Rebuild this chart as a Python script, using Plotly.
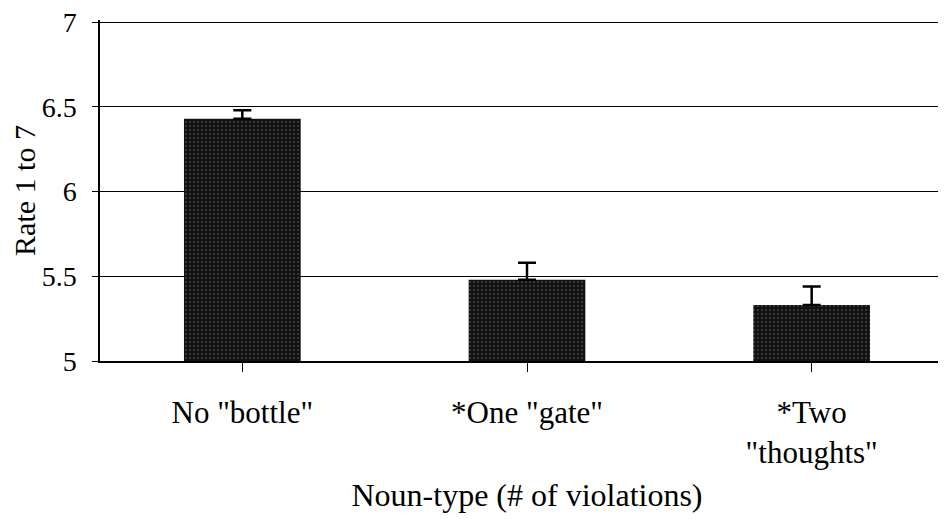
import plotly.graph_objects as go

categories = ['No "bottle"', '*One "gate"', '*Two<br>"thoughts"']
values = [6.43, 5.48, 5.33]
errors_plus = [0.05, 0.10, 0.11]
y_ticks = [5, 5.5, 6, 6.5, 7]
y_tick_text = ["5", "5.5", "6", "6.5", "7"]

font_family = "Liberation Serif, Times New Roman, serif"

fig = go.Figure()
fig.add_trace(go.Bar(
    x=[0, 1, 2],
    y=values,
    base=0,
    width=0.41,
    marker=dict(
        color="#111111",
        line=dict(width=0),
        pattern=dict(shape=".", fgcolor="#7a7a7a", size=4, solidity=0.2, fillmode="overlay"),
    ),
    error_y=dict(type="data", symmetric=False, array=errors_plus, arrayminus=[0, 0, 0],
                 color="black", thickness=2.5, width=9),
    showlegend=False,
))

fig.update_layout(
    width=946, height=519,
    margin=dict(l=92, r=0, t=12, b=166),
    paper_bgcolor="white", plot_bgcolor="white",
    font=dict(family=font_family, color="black"),
    xaxis=dict(
        tickmode="array", tickvals=[0, 1, 2], ticktext=categories,
        range=[-0.5, 2.5],
        showline=True, linecolor="black", linewidth=1.5,
        ticks="outside", tickson="boundaries", ticklen=9, tickcolor="black", tickwidth=1,
        showgrid=False,
        tickfont=dict(size=31, family=font_family),
        ticklabelstandoff=14,
        automargin=False,
        title=dict(text="Noun-type (# of violations)", font=dict(size=32, family=font_family), standoff=14),
    ),
    yaxis=dict(
        range=[5, 7.012],
        tickmode="array", tickvals=y_ticks, ticktext=y_tick_text,
        showline=True, linecolor="black", linewidth=1.5,
        ticks="outside", ticklen=6, tickcolor="black", tickwidth=1,
        showgrid=True, gridcolor="black", gridwidth=1.3,
        tickfont=dict(size=28, family=font_family),
        ticklabelstandoff=10,
        ticklabeloverflow="allow",
        automargin=True,
        title=dict(text="Rate 1 to 7", font=dict(size=30, family=font_family), standoff=14),
        zeroline=False,
    ),
)

fig.write_html("out.html")
